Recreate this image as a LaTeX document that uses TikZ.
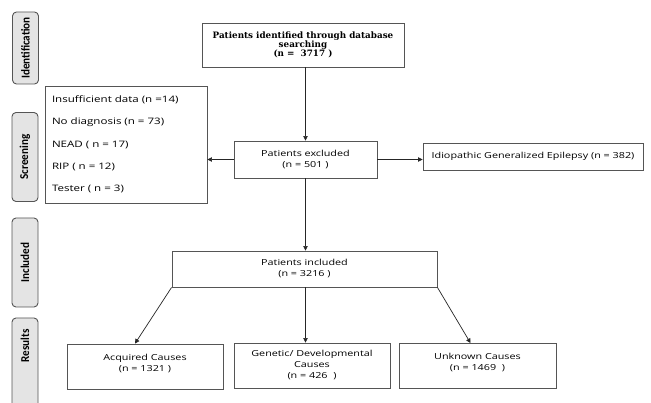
\documentclass[tikz,border=0pt]{standalone}
\usepackage{fontspec}
\setsansfont[FakeStretch=1.3]{Open Sans}
\newfontfamily\headserif{DejaVu Serif}
\newfontfamily\stagefont[FakeStretch=0.93]{Carlito}
\definecolor{boxline}{RGB}{85, 85, 85}
\definecolor{stagefill}{RGB}{228, 228, 228}
\usepackage{tikz}
\usetikzlibrary{shapes, arrows.meta, positioning, calc}

\tikzset{
  flowbox/.style={draw=boxline, line width=0.9pt, align=center, inner sep=2pt,
    font=\sffamily\fontsize{8.3}{11}\selectfont},
  stagebox/.style={draw=boxline, fill=stagefill, line width=0.9pt, rounded corners=4pt,
    minimum height=26pt, rotate=90, font=\stagefont\bfseries\fontsize{12}{13}\selectfont},
  flowarrow/.style={draw=black!85, line width=0.7pt, -{Triangle[length=4.5pt, width=4.5pt]}}
}

\begin{document}
\begin{tikzpicture}[x=1pt, y=-1pt]
  \clip (0,0) rectangle (651,403);
  \fill[white] (0,0) rectangle (651,403);

  % stage labels on the left
  \node[stagebox, minimum width=72pt] (ident) at (25.5,48) {Identification};
  \node[stagebox, minimum width=89pt] (screen) at (25,157) {Screening};
  \node[stagebox, minimum width=89pt] (incl) at (25,262.5) {Included};
  \node[stagebox, minimum width=100pt] (res) at (25,368) {};
  \node[rotate=90, font=\stagefont\bfseries\fontsize{12}{13}\selectfont] (reslabel) at (25,346) {Results};

  % flow boxes
  \node[flowbox, minimum width=202pt, minimum height=44pt,
    font=\headserif\bfseries\fontsize{8.8}{9.3}\selectfont] (search) at (303,45)
    {Patients identified through database\\searching\\(n =~ 3717 )};
  \node[flowbox, minimum width=143pt, minimum height=37pt] (excl) at (305.5,159.5)
    {Patients excluded\\(n = 501 )};
  \node[flowbox, minimum width=162pt, minimum height=117pt, align=left, text width=148pt,
    font=\sffamily\fontsize{8.9}{22.2}\selectfont] (reasons) at (126,144.5)
    {Insufficient data (n =14)\\No diagnosis (n = 73)\\NEAD ( n = 17)\\RIP ( n = 12)\\Tester ( n = 3)};
  \node[flowbox, minimum width=220pt, minimum height=27pt] (ige) at (533,156.5)
    {Idiopathic Generalized Epilepsy (n = 382)};
  \node[flowbox, minimum width=265pt, minimum height=36pt] (inclbox) at (304.5,269)
    {Patients included\\(n = 3216 )};
  \node[flowbox, minimum width=156pt, minimum height=45pt, text depth=8pt] (acq) at (145,366.5)
    {Acquired Causes\\(n = 1321 )};
  \node[flowbox, minimum width=156pt, minimum height=45pt] (gen) at (312,365.5)
    {Genetic/ Developmental\\Causes\\(n = 426~ )};
  \node[flowbox, minimum width=157pt, minimum height=45pt, text depth=8pt] (unk) at (477.5,366)
    {Unknown Causes\\(n = 1469~ )};

  % connectors
  \draw[flowarrow] (search.south -| excl.north) -- (excl.north);
  \draw[flowarrow] (excl.west) -- (excl.west -| reasons.east);
  \draw[flowarrow] (excl.east) -- (excl.east -| ige.west);
  \draw[flowarrow] (excl.south) -- (excl.south |- inclbox.north);
  \draw[flowarrow] (inclbox.south west) -- ([xshift=-10pt]acq.north);
  \draw[flowarrow] (excl.south |- inclbox.south) -- (excl.south |- gen.north);
  \draw[flowarrow] (inclbox.south east) -- ([xshift=-7pt]unk.north);
\end{tikzpicture}
\end{document}
